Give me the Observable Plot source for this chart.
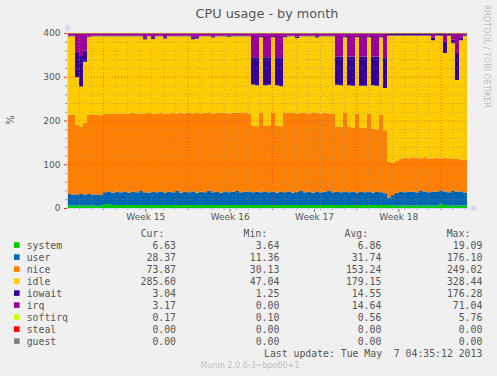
<!DOCTYPE html>
<html><head><meta charset="utf-8">
<script src="https://cdn.jsdelivr.net/npm/d3@7"></script>
<script src="https://cdn.jsdelivr.net/npm/@observablehq/plot@0.6"></script>
<style>
html,body{margin:0;padding:0;background:#f0f0f0;}
#wrap{position:relative;width:497px;height:376px;overflow:hidden;background:#f0f0f0;}
#chart{position:absolute;left:0;top:0;}
svg text{white-space:pre;}
</style></head><body><div id="wrap"><div id="chart"></div></div>
<script>
// ---- data (33.2 days, one sample every 0.332 day, 101 samples) ----
const seriesNames = ["system","user","nice","idle","iowait","irq","softirq","steal","guest"];
const seriesColors = ["#00CC00","#0066B3","#FF8000","#FFCC00","#330099","#990099","#CCFF00","#FF0000","#808080"];

const system = [
 6,6,6,6,6,6,6,5,6,9,
 8,7,7,7,7,7,7,7,7,7,
 7,7,7,7,7,7,7,7,7,7,
 7,7,7,7,7,7,7,7,7,7,
 7,7,7,7,7,7,7,7,7,7,
 7,7,7,7,7,7,7,7,7,7,
 7,7,7,7,7,7,7,7,7,7,
 7,7,7,7,7,7,7,7,7,7,
 7,6,6,6,6,6,6,6,6,6,
 6,6,6,10,7,6,6,6,6,6,
 6];
const user = [
 26,25,25,26,25,26,25,25,25,27,
 30,28,30,29,31,28,30,29,32,29,
 28,30,29,31,28,30,29,32,28,30,
 29,31,28,30,29,33,29,30,28,31,
 29,30,32,29,30,31,29,30,29,31,
 29,30,28,30,29,31,28,30,32,29,
 30,28,31,29,30,32,29,30,29,31,
 29,30,28,30,29,31,28,30,29,27,
 17,24,29,31,30,32,31,30,33,31,
 30,32,31,30,31,30,33,31,32,29,
 29];
const nice = [
 181,183,160,154,164,181,183,183,181,179,
 177,181,178,180,177,181,180,179,177,180,
 182,178,180,179,181,178,181,177,182,179,
 182,178,182,178,182,177,180,181,182,180,
 180,181,178,182,180,178,152,150,182,150,
 153,180,153,150,181,180,182,179,179,181,
 179,182,180,180,180,177,179,149,149,179,
 150,147,181,147,147,177,147,143,177,144,
 82,74,73,76,79,76,79,79,75,79,
 77,76,78,73,77,78,73,76,73,75,
 75];
const idle = [
 179.5,178.5,108.5,91.5,139.5,178.5,178.5,179.5,180.5,177.5,
 177.5,176.5,177.5,176.5,177.5,176.5,175.5,177.5,176.5,169.5,
 175.5,171.5,176.5,175.5,171.5,177.5,175.5,176.5,175.5,176.5,
 174.5,169.5,170.5,177.5,174.5,175.5,173.5,174.5,175.5,174.5,
 175.5,174.5,175.5,174.5,175.5,176.5,94.5,93.5,172.5,92.5,
 92.5,173.5,92.5,91.5,173.5,174.5,175.5,172.5,174.5,175.5,
 176.5,175.5,171.5,176.5,175.5,176.5,177.5,95.5,95.5,173.5,
 94.5,95.5,174.5,95.5,96.5,175.5,98.5,99.5,177.5,96.5,
 288.5,290.5,286.5,281.5,279.5,280.5,278.5,279.5,280.5,278.5,
 281.5,269.5,279.5,281.5,239.5,280.5,264.5,179.5,272.5,283.5,
 283.5];
const iowait = [
 2,2,55,70,25,2,2,2,2,2,
 2,2,2,2,2,2,2,2,2,4,
 2,4,2,2,3,2,2,2,2,2,
 2,4,4,2,2,2,3,2,2,2,
 2,2,2,2,2,2,62,64,3,64,
 63,3,64,66,3,2,2,3,2,2,
 2,2,3,2,2,2,2,65,66,3,
 66,67,3,67,67,3,66,67,3,70,
 3,3,3,3,3,3,3,3,3,3,
 3,6,3,3,25,3,8,62,6,3,
 3];
const irq = [
 5,5,45,52,40,6,5,5,5,5,
 5,5,5,5,5,5,5,5,5,10,
 5,9,5,5,9,5,5,5,5,5,
 5,10,8,5,5,5,7,5,5,5,
 6,5,5,5,5,5,55,55,6,55,
 55,6,55,55,6,5,5,8,5,5,
 5,5,7,5,5,5,5,53,53,6,
 53,53,6,53,53,6,53,53,6,55,
 2,2,2,2,2,2,2,2,2,2,
 2,10,2,2,20,2,15,45,10,3,
 3];
const softirq = [
 1,1,1,1,1,1,1,1,1,1,
 1,1,1,1,1,1,1,1,1,1,
 1,1,1,1,1,1,1,1,1,1,
 1,1,1,1,1,1,1,1,1,1,
 1,1,1,1,1,1,1,1,1,1,
 1,1,1,1,1,1,1,1,1,1,
 1,1,1,1,1,1,1,1,1,1,
 1,1,1,1,1,1,1,1,1,1,
 1,1,1,1,1,1,1,1,1,1,
 1,1,1,1,1,1,1,1,1,1,
 1];
const steal = [
 0,0,0,0,0,0,0,0,0,0, 0,0,0,0,0,0,0,0,0,0,
 0,0,0,0,0,0,0,0,0,0, 0,0,0,0,0,0,0,0,0,0,
 0,0,0,0,0,0,0,0,0,0, 0,0,0,0,0,0,0,0,0,0,
 0,0,0,0,0,0,0,0,0,0, 0,0,0,0,0,0,0,0,0,0,
 0,0,0,0,0,0,0,0,0,0, 0,0,0,0,0,0,0,0,0,0,
 0];
const guest = [
 0,0,0,0,0,0,0,0,0,0, 0,0,0,0,0,0,0,0,0,0,
 0,0,0,0,0,0,0,0,0,0, 0,0,0,0,0,0,0,0,0,0,
 0,0,0,0,0,0,0,0,0,0, 0,0,0,0,0,0,0,0,0,0,
 0,0,0,0,0,0,0,0,0,0, 0,0,0,0,0,0,0,0,0,0,
 0,0,0,0,0,0,0,0,0,0, 0,0,0,0,0,0,0,0,0,0,
 0];
const seriesValues = [system,user,nice,idle,iowait,irq,softirq,steal,guest];

const spanDays = 33.2;
const dayStep = 0.332;
const weekLabels = ["Week 15","Week 16","Week 17","Week 18"];
const weekLabelDays = [6.5,13.5,20.5,27.5];
const weekStartDays = [3,10,17,24,31];
const dayLines = [1,2,4,5,6,7,8,9,11,12,13,14,15,16,18,19,20,21,22,23,25,26,27,28,29,30,32,33];
const yLabelTicks = [0,100,200,300,400];
const yMinorTicks = [20,40,60,80,120,140,160,180,220,240,260,280,320,340,360,380];

const curVals = ["6.63","28.37","73.87","285.60","3.04","3.17","0.17","0.00","0.00"];
const minVals = ["3.64","11.36","30.13","47.04","1.25","0.00","0.10","0.00","0.00"];
const avgVals = ["6.86","31.74","153.24","179.15","14.55","14.64","0.56","0.00","0.00"];
const maxVals = ["19.09","176.10","249.02","328.44","176.28","71.04","5.76","0.00","0.00"];

// ---- table ----
const table = [];
seriesNames.forEach((name, s) => seriesValues[s].forEach((v, i) => table.push({series: name, day: i * dayStep, value: v})));

const gridGray = "#8f8f8f", gridRed = "#e03030", axisCol = "#CFD6F8";
const plot = Plot.plot({
  width: 497, height: 226,
  marginLeft: 67, marginRight: 30, marginTop: 33, marginBottom: 18,
  style: {background: "transparent", fontFamily: "DejaVu Sans", fontSize: "9px", color: "#555", overflow: "visible"},
  x: {domain: [0, spanDays], axis: null},
  y: {domain: [0, 400], axis: null},
  color: {domain: seriesNames, range: seriesColors},
  marks: [
    Plot.areaY(table, {x: "day", y: "value", z: "series", fill: "series", curve: "step-after"}),
    Plot.ruleX(dayLines, {stroke: gridGray, strokeOpacity: 0.55, strokeDasharray: "1,2"}),
    Plot.ruleY(yMinorTicks, {stroke: gridGray, strokeOpacity: 0.55, strokeDasharray: "1,2"}),
    Plot.ruleX(weekStartDays, {stroke: gridRed, strokeOpacity: 0.55, strokeDasharray: "1,2"}),
    Plot.ruleY(yLabelTicks.slice(1), {stroke: gridRed, strokeOpacity: 0.55, strokeDasharray: "1,2"}),
    Plot.axisY({ticks: yMinorTicks, tickSize: 2, tickFormat: () => "", stroke: "#999", label: null}),
    Plot.axisY({ticks: yLabelTicks, tickSize: 3, tickPadding: 4, stroke: gridRed, fill: "#555", fontSize: 9, label: null}),
    Plot.axisX({ticks: dayLines, tickSize: 2, tickFormat: () => "", stroke: "#999", label: null}),
    Plot.axisX({ticks: weekStartDays, tickSize: 2, tickFormat: () => "", stroke: gridRed, label: null}),
    Plot.axisX({ticks: weekLabelDays, tickSize: 4, tickPadding: 1, stroke: "#777", fill: "#555", fontSize: 9, label: null,
      tickFormat: d => weekLabels[weekLabelDays.indexOf(d)]}),
    Plot.ruleX([0], {stroke: axisCol, insetTop: -5}),
    Plot.ruleY([0], {stroke: axisCol, insetRight: -6}),
    Plot.dot([0], {x: d => d, frameAnchor: "top", dy: -6, symbol: "triangle", r: 2.6, fill: axisCol, stroke: null}),
    Plot.dot([0], {y: d => d, frameAnchor: "right", dx: 6, symbol: "triangle", rotate: 90, r: 2.6, fill: axisCol, stroke: null})
  ]
});
document.getElementById("chart").appendChild(plot);

// ---- texts and legend ----
const svg = d3.select("#wrap").append("svg")
  .attr("width", 497).attr("height", 376)
  .style("position", "absolute").style("left", 0).style("top", 0)
  .style("pointer-events", "none");

svg.append("text").attr("x", 267).attr("y", 18).attr("text-anchor", "middle")
  .attr("font-family", "DejaVu Sans").attr("font-size", 12.8).attr("fill", "#555")
  .text("CPU usage - by month");
svg.append("text").attr("transform", "translate(14,120) rotate(-90)").attr("text-anchor", "middle")
  .attr("font-family", "DejaVu Sans").attr("font-size", 10).attr("fill", "#555").text("%");
svg.append("text").attr("transform", "translate(484,5) rotate(90)").attr("text-anchor", "start")
  .attr("font-family", "DejaVu Sans").attr("font-size", 8).attr("fill", "#c0c0c0").text("RRDTOOL / TOBI OETIKER");

const mono = "DejaVu Sans Mono";
const fsz = 9.8;
const legCol = "#555";
const hdrY = 237;
[["Cur:",140.7],["Min:",243.5],["Avg:",344.5],["Max:",446.7]].forEach(([t, x]) =>
  svg.append("text").attr("x", x).attr("y", hdrY).attr("font-family", mono).attr("font-size", fsz).attr("fill", legCol).text(t));
const colsRight = [176, 279.3, 381.3, 482.3];
const cols = [curVals, minVals, avgVals, maxVals];
seriesNames.forEach((name, i) => {
  const yb = 248.7 + i * 12;
  svg.append("rect").attr("x", 14).attr("y", yb - 6.4).attr("width", 5.6).attr("height", 5.6).attr("fill", seriesColors[i]);
  svg.append("text").attr("x", 26.7).attr("y", yb).attr("font-family", mono).attr("font-size", fsz).attr("fill", legCol).text(name);
  cols.forEach((c, k) => svg.append("text").attr("x", colsRight[k]).attr("y", yb).attr("text-anchor", "end")
    .attr("font-family", mono).attr("font-size", fsz).attr("fill", legCol).text(c[i]));
});
svg.append("text").attr("x", 482.3).attr("y", 357).attr("text-anchor", "end")
  .attr("font-family", mono).attr("font-size", fsz).attr("fill", legCol).text("Last update: Tue May  7 04:35:12 2013");
svg.append("text").attr("x", 250).attr("y", 368).attr("text-anchor", "middle")
  .attr("font-family", "DejaVu Sans").attr("font-size", 8).attr("fill", "#c0c0c0").text("Munin 2.0.6-3~bpo60+1");
</script></body></html>
